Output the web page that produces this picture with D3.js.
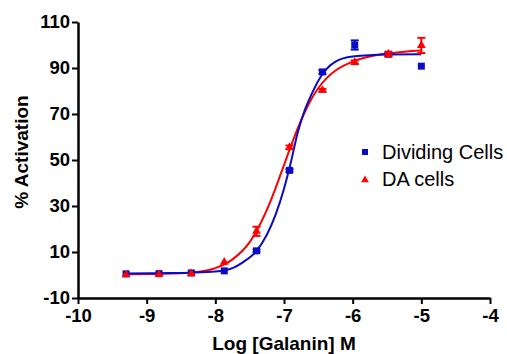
<!DOCTYPE html>
<html>
<head>
<meta charset="utf-8">
<script src="https://cdn.jsdelivr.net/npm/d3@7"></script>
<style>
  body { margin: 0; background: #fff; }
  text { font-family: "Liberation Sans", Arial, sans-serif; }
</style>
</head>
<body>
<div id="chart"></div>
<script>
// measured points (log M, % activation, SEM)
const logConc = [-9.3, -8.82, -8.35, -7.87, -7.4, -6.92, -6.44, -5.97, -5.48, -5.0];
const dividingVals = [0.5, 0.6, 0.9, 1.8, 10.5, 45.5, 88.3, 100, 96, 90.8];
const dividingErr = [0, 0, 0, 0, 0.6, 0.6, 0.8, 2.0, 0.5, 0];
const daVals = [0.1, 0.2, 0.6, 5.6, 19.0, 55.5, 80.3, 92.5, 96.0, 99.8];
const daErr = [0, 0, 0, 0, 2.0, 0.8, 0.6, 0.8, 1.0, 3.3];

// fitted curves
const dividingCurveX = [-9.3, -8.8, -8.35, -8.0, -7.75, -7.6, -7.4, -7.25, -7.125, -7.0, -6.9, -6.8, -6.7, -6.6, -6.5, -6.4, -6.25, -6.0, -5.5, -5.0];
const dividingCurveY = [0.7, 0.8, 1.0, 1.5, 3.0, 5.5, 10.5, 17.5, 26, 37.5, 49, 62, 71.5, 78.5, 84.5, 89, 92.8, 95, 95.9, 96];
const daCurveX = [-9.3, -8.8, -8.35, -8.0, -7.75, -7.5, -7.375, -7.25, -7.125, -7.0, -6.875, -6.75, -6.625, -6.5, -6.375, -6.25, -6.0, -5.75, -5.5, -5.25, -5.0];
const daCurveY = [0.3, 0.5, 1.1, 3.0, 6.8, 14.3, 20.5, 28.3, 37.6, 47.8, 58.0, 67.3, 75.2, 81.3, 85.7, 88.9, 92.8, 95.0, 96.3, 97.1, 97.6];

const xTicks = [-10, -9, -8, -7, -6, -5, -4];
const yTicks = [-10, 10, 30, 50, 70, 90, 110];
const seriesNames = ['Dividing Cells', 'DA cells'];

const W = 507, H = 354;
const margin = { top: 22, right: 17, bottom: 56, left: 78 };
const width = W - margin.left - margin.right;
const height = H - margin.top - margin.bottom;

const svg = d3.select('#chart').append('svg')
    .attr('width', W)
    .attr('height', H);
const g = svg.append('g')
    .attr('transform', `translate(${margin.left},${margin.top})`);

const x = d3.scaleLinear().domain([-10, -4]).range([0, width]);
const y = d3.scaleLinear().domain([-10, 110]).range([height, 0]);

const blue = '#0b0bc4';
const red = '#ff0000';

// X axis
g.append('g')
    .attr('transform', `translate(0,${height})`)
    .call(d3.axisBottom(x).tickValues(xTicks).tickFormat(d3.format('d')).tickSize(6).tickSizeOuter(0).tickPadding(5))
    .call(ax => {
        ax.select('.domain').attr('stroke-width', 2.5).attr('stroke', '#000');
        ax.selectAll('.tick line').attr('stroke-width', 2).attr('stroke', '#000');
        ax.selectAll('text').attr('font-size', 18.5).attr('font-weight', 'bold').attr('fill', '#000')
            .attr('font-family', '"Liberation Sans", Arial, sans-serif').text(d => d3.format('d')(d).replace('−', '-'));
    });

// Y axis
g.append('g')
    .call(d3.axisLeft(y).tickValues(yTicks).tickSize(6).tickSizeOuter(0).tickPadding(2))
    .call(ax => {
        ax.select('.domain').attr('stroke-width', 2.5).attr('stroke', '#000');
        ax.selectAll('.tick line').attr('stroke-width', 2).attr('stroke', '#000');
        ax.selectAll('text').attr('font-size', 18.5).attr('font-weight', 'bold').attr('fill', '#000')
            .attr('font-family', '"Liberation Sans", Arial, sans-serif').text(d => String(d));
    });

// axis titles
svg.append('text')
    .attr('x', margin.left + width / 2)
    .attr('y', 350)
    .attr('text-anchor', 'middle')
    .attr('font-size', 19)
    .attr('font-weight', 'bold')
    .text('Log [Galanin] M');

svg.append('text')
    .attr('transform', 'translate(28,152) rotate(-90)')
    .attr('text-anchor', 'middle')
    .attr('font-size', 19)
    .attr('font-weight', 'bold')
    .text('% Activation');

const line = d3.line()
    .x(d => x(d[0]))
    .y(d => y(d[1]))
    .curve(d3.curveMonotoneX);

// curves
g.append('path')
    .datum(daCurveX.map((v, i) => [v, daCurveY[i]]))
    .attr('d', line)
    .attr('fill', 'none')
    .attr('stroke', red)
    .attr('stroke-width', 2);

g.append('path')
    .datum(dividingCurveX.map((v, i) => [v, dividingCurveY[i]]))
    .attr('d', line)
    .attr('fill', 'none')
    .attr('stroke', blue)
    .attr('stroke-width', 2);

function errorBars(vals, errs, color) {
    const data = logConc.map((c, i) => ({ c, v: vals[i], e: errs[i] })).filter(d => d.e > 0);
    const eg = g.append('g').attr('stroke', color).attr('stroke-width', 2);
    eg.selectAll('.bar').data(data).enter().append('line')
        .attr('x1', d => x(d.c)).attr('x2', d => x(d.c))
        .attr('y1', d => y(d.v - d.e)).attr('y2', d => y(d.v + d.e));
    eg.selectAll('.capt').data(data).enter().append('line')
        .attr('x1', d => x(d.c) - 4).attr('x2', d => x(d.c) + 4)
        .attr('y1', d => y(d.v + d.e)).attr('y2', d => y(d.v + d.e));
    eg.selectAll('.capb').data(data).enter().append('line')
        .attr('x1', d => x(d.c) - 4).attr('x2', d => x(d.c) + 4)
        .attr('y1', d => y(d.v - d.e)).attr('y2', d => y(d.v - d.e));
}

// blue squares
errorBars(dividingVals, dividingErr, blue);
g.selectAll('.sq').data(logConc.map((c, i) => [c, dividingVals[i]])).enter().append('rect')
    .attr('x', d => x(d[0]) - 3.5)
    .attr('y', d => y(d[1]) - 3.5)
    .attr('width', 7)
    .attr('height', 7)
    .attr('fill', blue);

// red triangles
errorBars(daVals, daErr, red);
const tri = d3.symbol().type(d3.symbolTriangle).size(34);
g.selectAll('.tri').data(logConc.map((c, i) => [c, daVals[i]])).enter().append('path')
    .attr('transform', d => `translate(${x(d[0])},${y(d[1])})`)
    .attr('d', tri)
    .attr('fill', red);

// legend
const legend = svg.append('g').attr('transform', 'translate(365,152)');
legend.append('rect').attr('x', -3).attr('y', -3).attr('width', 6).attr('height', 6).attr('fill', blue);
legend.append('text').attr('x', 17).attr('y', 7).attr('font-size', 20).text(seriesNames[0]);
legend.append('path').attr('transform', 'translate(0,28)').attr('d', d3.symbol().type(d3.symbolTriangle).size(26)).attr('fill', red);
legend.append('text').attr('x', 17).attr('y', 34).attr('font-size', 20).text(seriesNames[1]);
</script>
</body>
</html>
